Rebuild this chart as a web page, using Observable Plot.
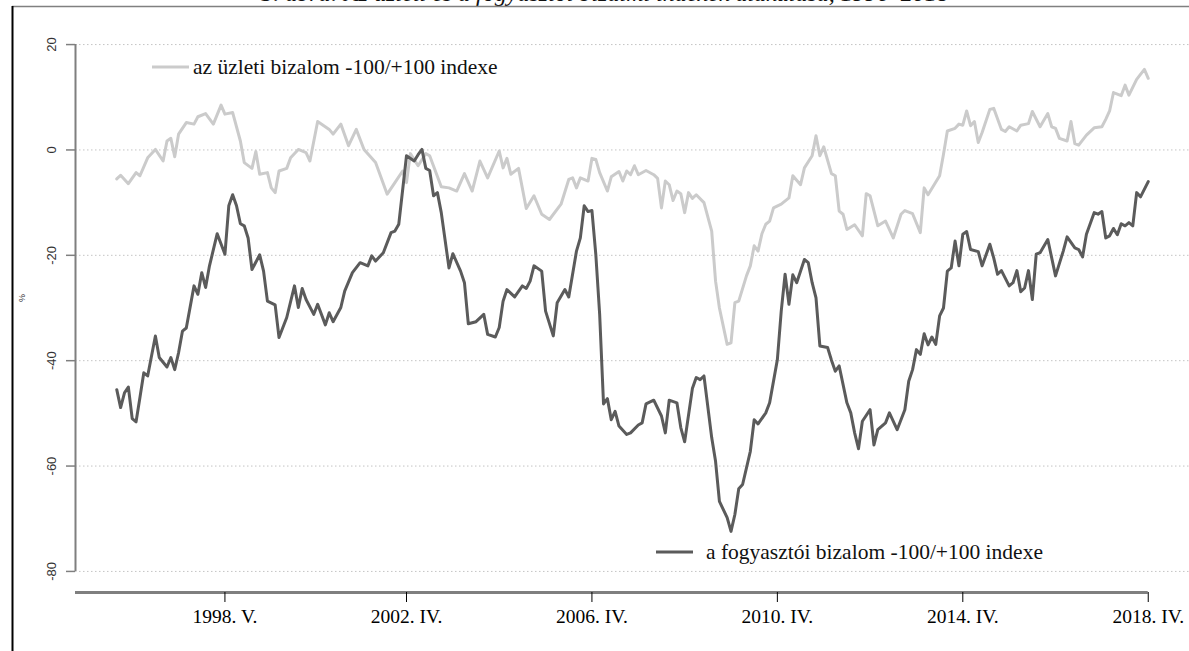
<!DOCTYPE html>
<html>
<head>
<meta charset="utf-8">
<script src="https://cdn.jsdelivr.net/npm/d3@7"></script>
<script src="https://cdn.jsdelivr.net/npm/@observablehq/plot@0.6"></script>
<style>
  html, body { margin: 0; padding: 0; background: #fff; }
  #chart svg { display: block; }
</style>
</head>
<body>
<div id="chart"></div>
<script>
// month index 0 = 1996 January
const titleText = "3. ábra: Az üzleti és a fogyasztói bizalmi indexek alakulása, 1996–2018";
const yAxisLabel = "%";
const seriesNames = ["az üzleti bizalom -100/+100 indexe", "a fogyasztói bizalom -100/+100 indexe"];
const seriesColors = ["#cbcbcb", "#5b5b5b"];
const tickMonths = [28, 75, 123, 171, 219, 267];
const tickLabels = ["1998. V.", "2002. IV.", "2006. IV.", "2010. IV.", "2014. IV.", "2018. IV."];
const yTicks = [20, 0, -20, -40, -60, -80];

const businessMonths = [
  0, 1, 3, 5, 6, 8, 10, 12, 13, 14, 15, 16, 18, 20, 21, 23, 25, 27, 28, 30,
  32, 33, 35, 36, 37, 39, 40, 41, 42, 44, 45, 47, 49, 50, 52, 55, 56, 58,
  60, 62, 64, 67, 70, 72, 74, 75, 76, 78, 80, 81, 84, 86, 88, 90, 92, 94, 96, 99,
  100, 101, 102, 104, 106, 108, 110, 112, 115, 117, 118, 119,
  120, 122, 123, 124, 125, 127, 128, 130, 131, 132, 133, 134, 135, 137, 139, 140,
  141, 142, 143, 144, 145, 146, 147, 148, 149, 150, 152, 154, 155, 156, 158, 159,
  160, 161, 163, 164, 165, 166, 167, 168, 169, 170, 172,
  174, 175, 177, 178, 180, 181, 182, 183, 185, 186, 187, 188, 189, 191, 193, 194,
  195, 197, 199, 201, 203, 204, 206, 208, 209, 210, 213, 214, 215, 217, 218, 219,
  220, 221, 222, 223, 224, 226, 227, 229, 230, 231, 233, 234, 236, 237, 239, 241,
  242, 243, 244, 246, 247, 248, 249, 251, 253, 255, 256, 257, 258, 260, 261, 262,
  264, 266, 267
];
const businessValues = [
  -5.5, -4.8, -6.4, -4.3, -4.9, -1.5, 0.1, -2.1, 1.7, 2.2, -1.3, 3.0, 5.2, 4.9, 6.3, 6.9, 4.9, 8.5, 6.8, 7.1,
  1.7, -2.4, -3.5, -0.3, -4.6, -4.3, -7.2, -8.1, -4.0, -3.5, -1.5, 0.1, -0.5, -2.1, 5.4, 3.9, 3.0, 4.9,
  0.8, 3.9, 0.1, -2.4, -8.4, -6.2, -4.0, -6.2, -0.7, -3.0, -0.7, -1.1, -7.0, -7.2, -7.8, -4.5, -7.8, -2.1, -5.3, -0.2,
  -3.4, -1.6, -4.6, -3.5, -11.1, -8.7, -12.2, -13.2, -10.3, -5.6, -5.3, -7.2,
  -5.3, -5.9, -1.6, -1.8, -4.3, -7.8, -5.1, -4.1, -5.9, -4.0, -4.7, -3.0, -4.7, -3.9, -4.7, -5.4,
  -11.0, -5.9, -6.6, -9.6, -7.8, -8.3, -11.9, -8.1, -9.2, -8.5, -10.0, -15.4, -24.9, -30.0, -36.9, -36.6,
  -29.0, -28.7, -23.9, -22.0, -18.2, -19.2, -15.9, -14.1, -13.5, -11.0, -10.3,
  -9.1, -4.9, -6.6, -3.4, -1.1, 2.7, -1.1, 0.6, -4.5, -4.9, -11.6, -12.2, -15.1, -14.2, -16.3, -8.3,
  -8.7, -14.4, -13.5, -16.7, -12.2, -11.5, -12.1, -15.7, -7.2, -8.5, -4.9, -0.8, 3.6, 4.1, 4.9, 4.7,
  7.4, 4.6, 5.4, 1.4, 3.3, 7.7, 7.9, 3.9, 3.5, 4.4, 3.6, 4.7, 5.0, 7.3, 4.4, 6.9,
  4.4, 4.1, 2.2, 1.7, 5.4, 1.2, 0.9, 2.8, 4.2, 4.4, 5.8, 7.4, 10.9, 10.3, 12.3, 10.4,
  13.4, 15.3, 13.6
];

const consumerMonths = [
  0, 1, 2, 3, 4, 5, 6, 7, 8, 10, 11, 13, 14, 15, 16, 17, 18, 20, 21, 22,
  23, 24, 26, 28, 29, 30, 31, 32, 33, 34, 35, 37, 38, 39, 41, 42, 44, 46, 47, 48,
  49, 51, 52, 54, 55, 56, 58, 59,
  61, 63, 65, 66, 67, 69, 71, 72, 73, 75, 77, 78, 79, 80, 81, 82, 83, 84, 86, 87,
  89, 90, 91, 93, 95, 96, 98, 99, 100, 101, 103, 105, 106, 107, 108, 110, 111, 113,
  114, 116, 117, 119, 120, 121, 122, 123, 124, 125, 126,
  127, 128, 129, 130, 132, 133, 135, 136, 137, 139, 141, 142, 143, 145, 146, 147,
  149, 150, 151, 152, 154, 155, 156, 158, 159, 160, 161, 162, 164, 165, 166, 168,
  169, 171, 172, 173, 174, 175, 176, 178, 179, 180, 181, 182, 184, 185, 186, 187,
  189, 190, 191, 192, 193, 195, 196, 197, 199, 200, 202, 204, 205, 206, 207, 208,
  209, 210, 211, 212, 213, 214, 215, 216, 217, 218, 219, 220, 221, 223, 224, 226,
  227, 228, 229, 231, 232, 233, 234, 235, 236, 237, 238, 239, 241, 243, 245, 246,
  248, 249, 250, 251, 253, 254, 255, 256, 257, 258, 259, 260, 261, 262, 263, 264,
  265, 267
];
const consumerValues = [
  -45.5, -48.9, -46.1, -45.0, -51.0, -51.6, -47.0, -42.3, -42.9, -35.3, -39.4, -41.2, -39.4, -41.7, -38.5, -34.4, -33.8, -25.8, -27.4, -23.3,
  -26.1, -22.0, -15.9, -19.8, -10.6, -8.5, -10.6, -14.0, -14.4, -16.7, -22.7, -19.9, -23.0, -28.7, -29.4, -35.6, -31.8, -25.8, -29.9, -26.3,
  -28.4, -31.2, -29.3, -33.2, -30.9, -32.6, -29.9, -26.8,
  -23.3, -21.4, -22.0, -20.1, -21.1, -19.5, -15.7, -15.4, -14.1, -1.1, -2.1, -0.9, 0.1, -3.5, -3.9, -8.7, -8.1, -11.9, -22.4, -19.7,
  -23.0, -25.2, -33.0, -32.6, -31.2, -35.0, -35.5, -33.7, -28.7, -26.5, -27.9, -25.8, -26.3, -24.9, -22.0, -23.0, -30.6, -35.3,
  -29.0, -26.5, -27.9, -19.2, -16.7, -10.6, -11.7, -11.5, -19.8, -31.2, -48.2,
  -47.2, -51.2, -49.6, -52.4, -54.0, -53.7, -52.2, -51.8, -48.2, -47.5, -50.5, -53.7, -47.5, -48.0, -52.7, -55.4,
  -45.3, -43.2, -43.6, -42.9, -54.6, -59.1, -66.7, -69.8, -72.4, -69.2, -64.3, -63.5, -57.2, -51.2, -52.0, -49.9,
  -48.0, -39.8, -30.6, -23.6, -29.3, -23.7, -25.2, -20.8, -21.4, -25.2, -28.1, -37.2, -37.5, -39.9, -42.0, -41.0,
  -48.0, -49.9, -53.7, -56.7, -51.5, -49.3, -56.0, -53.1, -51.8, -49.9, -53.1, -49.3, -43.9, -41.7, -37.9, -38.8,
  -34.9, -37.0, -35.5, -36.9, -31.5, -30.0, -23.0, -22.4, -17.3, -22.0, -16.0, -15.5, -18.9, -19.3, -22.0, -17.9,
  -20.5, -23.6, -22.9, -25.8, -25.2, -22.9, -26.9, -26.2, -22.9, -28.4, -19.8, -19.5, -17.0, -23.9, -19.2, -16.5,
  -18.6, -18.9, -20.3, -16.0, -11.9, -12.2, -11.7, -16.7, -16.3, -14.9, -16.1, -14.0, -14.4, -13.8, -14.4, -8.1,
  -8.9, -6.0
];

const rows = [
  ...businessMonths.map((m, i) => ({month: m, value: businessValues[i], series: seriesNames[0]})),
  ...consumerMonths.map((m, i) => ({month: m, value: consumerValues[i], series: seriesNames[1]}))
];

// R-style 4% padding around the data range
const xEnd = tickMonths[tickMonths.length - 1];
const xDomain = [-0.04 * xEnd, xEnd * 1.04];
const yDomain = [-84, 24];

const serif = "'Liberation Serif', 'Times New Roman', serif";
const sans = "'Liberation Sans', Arial, sans-serif";

function decorations(index, scales, values, dims) {
  const g = d3.create("svg:g").attr("text-anchor", "start");
  // title (clipped at the top of the page, as in the source)
  g.append("text").attr("x", 605).attr("y", 1).attr("text-anchor", "middle")
    .attr("font-family", serif).attr("font-style", "italic").attr("font-size", 24)
    .attr("fill", "#111").text(titleText);
  // page frame lines
  g.append("line").attr("x1", 12).attr("x2", dims.width).attr("y1", 6.5).attr("y2", 6.5)
    .attr("stroke", "#808080").attr("stroke-width", 1.5);
  g.append("line").attr("x1", 12.5).attr("x2", 12.5).attr("y1", 6).attr("y2", dims.height)
    .attr("stroke", "#000").attr("stroke-width", 2);
  // y axis label
  g.append("text").attr("transform", "translate(25,298) rotate(-90)").attr("text-anchor", "middle")
    .attr("font-family", sans).attr("font-size", 9).attr("fill", "#333").text(yAxisLabel);
  // legend entries
  const legend = [
    {x: 152, tx: 193, y: 67, name: seriesNames[0], color: seriesColors[0]},
    {x: 656, tx: 706, y: 552, name: seriesNames[1], color: seriesColors[1]}
  ];
  for (const l of legend) {
    g.append("line").attr("x1", l.x).attr("x2", l.x + 37).attr("y1", l.y).attr("y2", l.y)
      .attr("stroke", l.color).attr("stroke-width", 3);
    g.append("text").attr("x", l.tx).attr("y", l.y).attr("dy", "0.32em").attr("text-anchor", "start")
      .attr("font-family", serif).attr("font-size", 21.5).attr("fill", "#111").text(l.name);
  }
  return g.node();
}

const chart = Plot.plot({
  width: 1189,
  height: 651,
  marginLeft: 75,
  marginRight: 0,
  marginTop: 23,
  marginBottom: 59,
  x: {domain: xDomain, axis: null},
  y: {domain: yDomain, axis: null},
  color: {domain: seriesNames, range: seriesColors},
  style: {fontFamily: serif, background: "#fff", overflow: "hidden"},
  marks: [
    Plot.gridY(yTicks, {stroke: "#c4c4c4", strokeOpacity: 1, strokeDasharray: "1.5,2.5", strokeWidth: 1}),
    Plot.ruleX([xDomain[0]], {y1: yTicks[0], y2: yTicks[yTicks.length - 1], stroke: "#7f7f7f", strokeWidth: 2}),
    Plot.axisY(yTicks, {anchor: "left", label: null, tickSize: 9, tickFormat: () => "", stroke: "#7f7f7f", strokeWidth: 1.5}),
    Plot.text(yTicks, {y: d => d, text: d => String(d), frameAnchor: "left", dx: -24, rotate: -90,
      fontFamily: sans, fontSize: 13, fill: "#333", textAnchor: "middle"}),
    Plot.ruleY([yDomain[0]], {x1: xDomain[0], x2: xEnd, stroke: "#7f7f7f", strokeWidth: 3}),
    Plot.axisX(tickMonths, {anchor: "bottom", label: null, tickSize: 10, tickPadding: 7, stroke: "#000",
      tickFormat: d => tickLabels[tickMonths.indexOf(d)], fontSize: 19.5, fontFamily: serif, fill: "#000"}),
    Plot.line(rows, {x: "month", y: "value", z: "series", stroke: "series", strokeWidth: 3,
      strokeLinejoin: "round", strokeLinecap: "round"}),
    decorations
  ]
});
document.getElementById("chart").appendChild(chart);
</script>
</body>
</html>
